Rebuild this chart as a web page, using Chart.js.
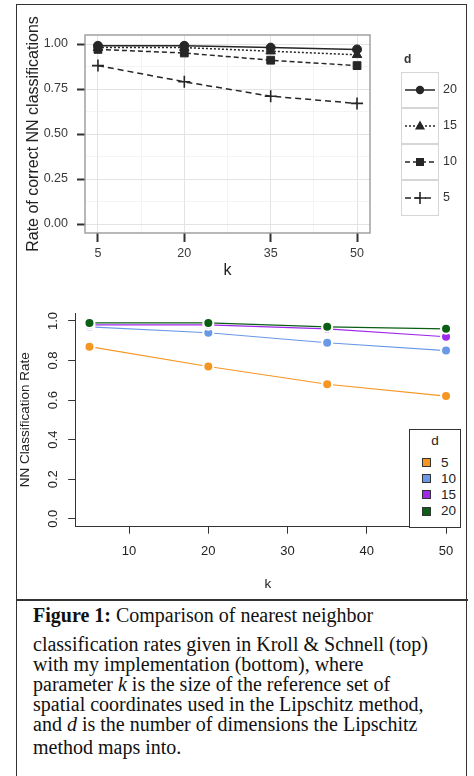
<!DOCTYPE html>
<html><head><meta charset="utf-8">
<script src="https://cdn.jsdelivr.net/npm/chart.js@4.4.0/dist/chart.umd.min.js"></script>
<style>
html,body{margin:0;padding:0;background:#fff;}
body{width:474px;height:776px;position:relative;overflow:hidden;font-family:"Liberation Sans",Arial,sans-serif;}
#frame{position:absolute;left:16px;top:4px;width:449px;height:800px;border:1.5px solid #333;}
#sep{position:absolute;left:16px;top:599px;width:452px;height:2px;background:#333;}
canvas{position:absolute;}
#c1{left:0;top:0;}
#c2{left:0;top:290px;}
#leg1{position:absolute;left:401px;top:52px;}
#leg1 .t{position:absolute;left:3px;top:0;font-weight:bold;font-size:12px;color:#333;}
#leg1 .key{position:absolute;left:0;width:36px;height:34px;border:1px solid #d6d6d6;background:#fff;}
#leg1 .lab{position:absolute;left:42px;font-size:12.5px;color:#333;}
#leg2{position:absolute;left:409px;top:429px;width:50px;height:97px;border:1px solid #333;background:#fff;}
#leg2 .t{position:absolute;left:0;width:50px;text-align:center;top:3px;font-size:13.5px;color:#222;}
#leg2 .sw{position:absolute;left:12px;width:7px;height:7px;border:1px solid #333;}
#leg2 .lab{position:absolute;left:31px;font-size:13.5px;color:#222;}
.cap{position:absolute;left:33px;font-family:"Liberation Serif","Times New Roman",serif;font-size:20px;line-height:20px;color:#111;white-space:nowrap;}
</style>
</head><body>
<div id="frame"></div>
<div id="sep"></div>
<canvas id="c1" width="474" height="290"></canvas>
<canvas id="c2" width="474" height="310"></canvas>
<div id="leg1"></div>
<div id="leg2"></div>
<div class="cap" style="top:605px"><b>Figure 1:</b> Comparison of nearest neighbor</div>
<div class="cap" style="top:634px">classification rates given in Kroll &amp; Schnell (top)</div>
<div class="cap" style="top:654px">with my implementation (bottom), where</div>
<div class="cap" style="top:674px">parameter <i>k</i> is the size of the reference set of</div>
<div class="cap" style="top:694px">spatial coordinates used in the Lipschitz method,</div>
<div class="cap" style="top:714px">and <i>d</i> is the number of dimensions the Lipschitz</div>
<div class="cap" style="top:737px">method maps into.</div>
<script>
// ---------- data ----------
const kValues = [5, 20, 35, 50];

// top panel (Kroll & Schnell)
const topLabels = ['20', '15', '10', '5'];
const topD20 = [0.99, 0.99, 0.98, 0.97];
const topD15 = [0.98, 0.98, 0.96, 0.94];
const topD10 = [0.97, 0.95, 0.91, 0.88];
const topD5  = [0.88, 0.79, 0.71, 0.67];
const topXTicks = [5, 20, 35, 50];
const topYTicks = [0.00, 0.25, 0.50, 0.75, 1.00];

// bottom panel (my implementation)
const botLabels = ['5', '10', '15', '20'];
const botD5  = [0.87, 0.77, 0.68, 0.62];
const botD10 = [0.97, 0.94, 0.89, 0.85];
const botD15 = [0.98, 0.98, 0.96, 0.92];
const botD20 = [0.99, 0.99, 0.97, 0.96];
const botXTicks = [10, 20, 30, 40, 50];
const botYTicks = [0.0, 0.2, 0.4, 0.6, 0.8, 1.0];

// ---------- styles ----------
const topStyles = [
  {dash: [], point: 'circle', r: 4.5},
  {dash: [2, 2], point: 'triangle', r: 5.5},
  {dash: [5, 3], point: 'rect', r: 5.5},
  {dash: [6, 4], point: 'cross', r: 6}
];
const botColors = ['rgb(245,150,35)', 'rgb(105,152,230)', 'rgb(160,40,235)', 'rgb(10,95,20)'];
const ink = '#262626';

const toXY = arr => kValues.map((k, i) => ({x: k, y: arr[i]}));

const panelBorder = {
  id: 'panelBorder',
  afterDraw(chart, args, opts) {
    if (!opts || !opts.color) return;
    const {ctx, chartArea: a} = chart;
    ctx.save();
    ctx.strokeStyle = opts.color;
    ctx.lineWidth = opts.width;
    ctx.strokeRect(a.left, a.top, a.right - a.left, a.bottom - a.top);
    ctx.restore();
  }
};

// ---------- top chart ----------
const topSeries = [topD20, topD15, topD10, topD5];
const topXMinor = topXTicks.slice(1).map((v, i) => (v + topXTicks[i]) / 2);
const topYMinor = topYTicks.slice(1).map((v, i) => (v + topYTicks[i]) / 2);
const isIn = (arr, v) => arr.some(a => Math.abs(a - v) < 1e-9);

new Chart(document.getElementById('c1'), {
  type: 'line',
  data: {
    datasets: topSeries.map((s, i) => ({
      label: topLabels[i],
      data: toXY(s),
      borderColor: ink,
      borderWidth: 1.5,
      borderDash: topStyles[i].dash,
      pointStyle: topStyles[i].point,
      pointRadius: topStyles[i].r,
      pointBackgroundColor: ink,
      pointBorderColor: ink,
      pointBorderWidth: topStyles[i].point === 'cross' ? 1.6 : 1,
      fill: false,
      tension: 0
    }))
  },
  options: {
    responsive: false,
    animation: false,
    events: [],
    layout: {padding: {left: 18, right: 104, top: 35, bottom: 7}},
    plugins: {legend: {display: false}, tooltip: {enabled: false}, panelBorder: {color: '#9a9a9a', width: 1.4}},
    scales: {
      x: {
        type: 'linear', min: 2.75, max: 52.25,
        afterBuildTicks: s => { s.ticks = [...topXTicks, ...topXMinor].sort((a, b) => a - b).map(v => ({value: v})); },
        afterFit: s => { s.height = 50; },
        border: {display: false},
        grid: {
          color: c => isIn(topXTicks, c.tick.value) ? '#e3e3e3' : '#efefef',
          lineWidth: c => isIn(topXTicks, c.tick.value) ? 1 : 0.7,
          tickColor: c => isIn(topXTicks, c.tick.value) ? '#333' : 'rgba(0,0,0,0)',
          tickWidth: 2, tickLength: 9
        },
        ticks: {
          autoSkip: false, maxRotation: 0, padding: 3.8,
          color: '#3a3a3a', font: {size: 12.5, family: '"Liberation Sans", Arial, sans-serif'},
          callback: v => isIn(topXTicks, v) ? String(v) : ''
        },
        title: {display: true, text: 'k', color: '#222', padding: {top: 0, bottom: 2.6},
          font: {size: 16, family: '"Liberation Sans", Arial, sans-serif'}}
      },
      y: {
        type: 'linear', min: -0.05, max: 1.05,
        afterBuildTicks: s => { s.ticks = [...topYTicks, ...topYMinor].sort((a, b) => a - b).map(v => ({value: v})); },
        afterFit: s => { s.width = 67; },
        border: {display: false},
        grid: {
          color: c => isIn(topYTicks, c.tick.value) ? '#e3e3e3' : '#efefef',
          lineWidth: c => isIn(topYTicks, c.tick.value) ? 1 : 0.7,
          tickColor: c => isIn(topYTicks, c.tick.value) ? '#333' : 'rgba(0,0,0,0)',
          tickWidth: 2, tickLength: 8
        },
        ticks: {
          autoSkip: false, padding: 9,
          color: '#3a3a3a', font: {size: 12.5, family: '"Liberation Sans", Arial, sans-serif'},
          callback: v => isIn(topYTicks, v) ? v.toFixed(2) : ''
        },
        title: {display: true, text: 'Rate of correct NN classifications', color: '#222',
          padding: {top: 5.6, bottom: 0},
          font: {size: 16, family: '"Liberation Sans", Arial, sans-serif'}}
      }
    }
  },
  plugins: [panelBorder]
});

// top legend (HTML, built from the series labels/styles)
(function () {
  const leg = document.getElementById('leg1');
  const t = document.createElement('div'); t.className = 't'; t.textContent = 'd'; leg.appendChild(t);
  topLabels.forEach((lab, i) => {
    const top = 20 + i * 36;
    const key = document.createElement('div'); key.className = 'key'; key.style.top = top + 'px';
    const cv = document.createElement('canvas'); cv.width = 36; cv.height = 34; cv.style.left = '0'; cv.style.top = '0';
    key.appendChild(cv); leg.appendChild(key);
    const ctx = cv.getContext('2d');
    const st = topStyles[i];
    ctx.strokeStyle = ink; ctx.fillStyle = ink; ctx.lineWidth = 1.5;
    ctx.setLineDash(st.dash);
    ctx.beginPath(); ctx.moveTo(3, 17); ctx.lineTo(33, 17); ctx.stroke();
    ctx.setLineDash([]);
    const cx = 18, cy = 17;
    if (st.point === 'circle') { ctx.beginPath(); ctx.arc(cx, cy, 4.2, 0, Math.PI * 2); ctx.fill(); }
    else if (st.point === 'triangle') { ctx.beginPath(); ctx.moveTo(cx, cy - 5.5); ctx.lineTo(cx + 5, cy + 3.5); ctx.lineTo(cx - 5, cy + 3.5); ctx.closePath(); ctx.fill(); }
    else if (st.point === 'rect') { ctx.fillRect(cx - 4, cy - 4, 8, 8); }
    else { ctx.lineWidth = 1.6; ctx.beginPath(); ctx.moveTo(cx - 6, cy); ctx.lineTo(cx + 6, cy); ctx.moveTo(cx, cy - 6); ctx.lineTo(cx, cy + 6); ctx.stroke(); }
    const l = document.createElement('div'); l.className = 'lab'; l.textContent = lab; l.style.top = (top + 10) + 'px';
    leg.appendChild(l);
  });
})();

// ---------- bottom chart ----------
const botSeries = [botD5, botD10, botD15, botD20];
new Chart(document.getElementById('c2'), {
  type: 'line',
  data: {
    datasets: botSeries.map((s, i) => ({
      label: botLabels[i],
      data: toXY(s),
      borderColor: botColors[i],
      borderWidth: 1.1,
      pointStyle: 'circle',
      pointRadius: 5,
      pointBackgroundColor: botColors[i],
      pointBorderColor: '#fff',
      pointBorderWidth: 2,
      order: 3 - i,
      fill: false,
      tension: 0
    }))
  },
  options: {
    responsive: false,
    animation: false,
    events: [],
    layout: {padding: {left: 10, right: 13.7, top: 20.3, bottom: 5}},
    plugins: {legend: {display: false}, tooltip: {enabled: false}},
    scales: {
      x: {
        type: 'linear', min: 3.2, max: 51.8,
        afterBuildTicks: s => { s.ticks = botXTicks.map(v => ({value: v})); },
        afterFit: s => { s.height = 68.3; },
        border: {display: true, color: '#333', width: 1},
        grid: {drawOnChartArea: false, drawTicks: true, tickLength: 7, tickColor: '#333', tickWidth: 1},
        ticks: {autoSkip: false, maxRotation: 0, padding: 10.2, color: '#222',
          font: {size: 13, family: '"Liberation Sans", Arial, sans-serif'},
          callback: v => String(v)},
        title: {display: true, text: 'k', color: '#222', padding: {top: 0, bottom: 2.9},
          font: {size: 13.5, family: '"Liberation Sans", Arial, sans-serif'}}
      },
      y: {
        type: 'linear', min: -0.04, max: 1.04,
        afterBuildTicks: s => { s.ticks = botYTicks.map(v => ({value: v})); },
        afterFit: s => { s.width = 65.2; },
        border: {display: true, color: '#333', width: 1},
        grid: {drawOnChartArea: false, drawTicks: true, tickLength: 7, tickColor: '#333', tickWidth: 1},
        ticks: {autoSkip: false, minRotation: 90, maxRotation: 90, padding: 15.2, labelOffset: -9,
          color: '#222', font: {size: 13, family: '"Liberation Sans", Arial, sans-serif'},
          callback: v => v.toFixed(1)},
        title: {display: true, text: 'NN Classification Rate', color: '#222', padding: {top: 6.9, bottom: 0},
          font: {size: 13.5, family: '"Liberation Sans", Arial, sans-serif'}}
      }
    }
  }
});

// bottom legend (HTML, built from labels/colors)
(function () {
  const leg = document.getElementById('leg2');
  const t = document.createElement('div'); t.className = 't'; t.textContent = 'd'; leg.appendChild(t);
  botLabels.forEach((lab, i) => {
    const cy = 32.5 + i * 16.2;
    const sw = document.createElement('div'); sw.className = 'sw'; sw.style.background = botColors[i]; sw.style.top = (cy - 4.5) + 'px';
    const l = document.createElement('div'); l.className = 'lab'; l.textContent = lab; l.style.top = (cy - 8) + 'px';
    leg.appendChild(sw); leg.appendChild(l);
  });
})();
</script>
</body></html>
